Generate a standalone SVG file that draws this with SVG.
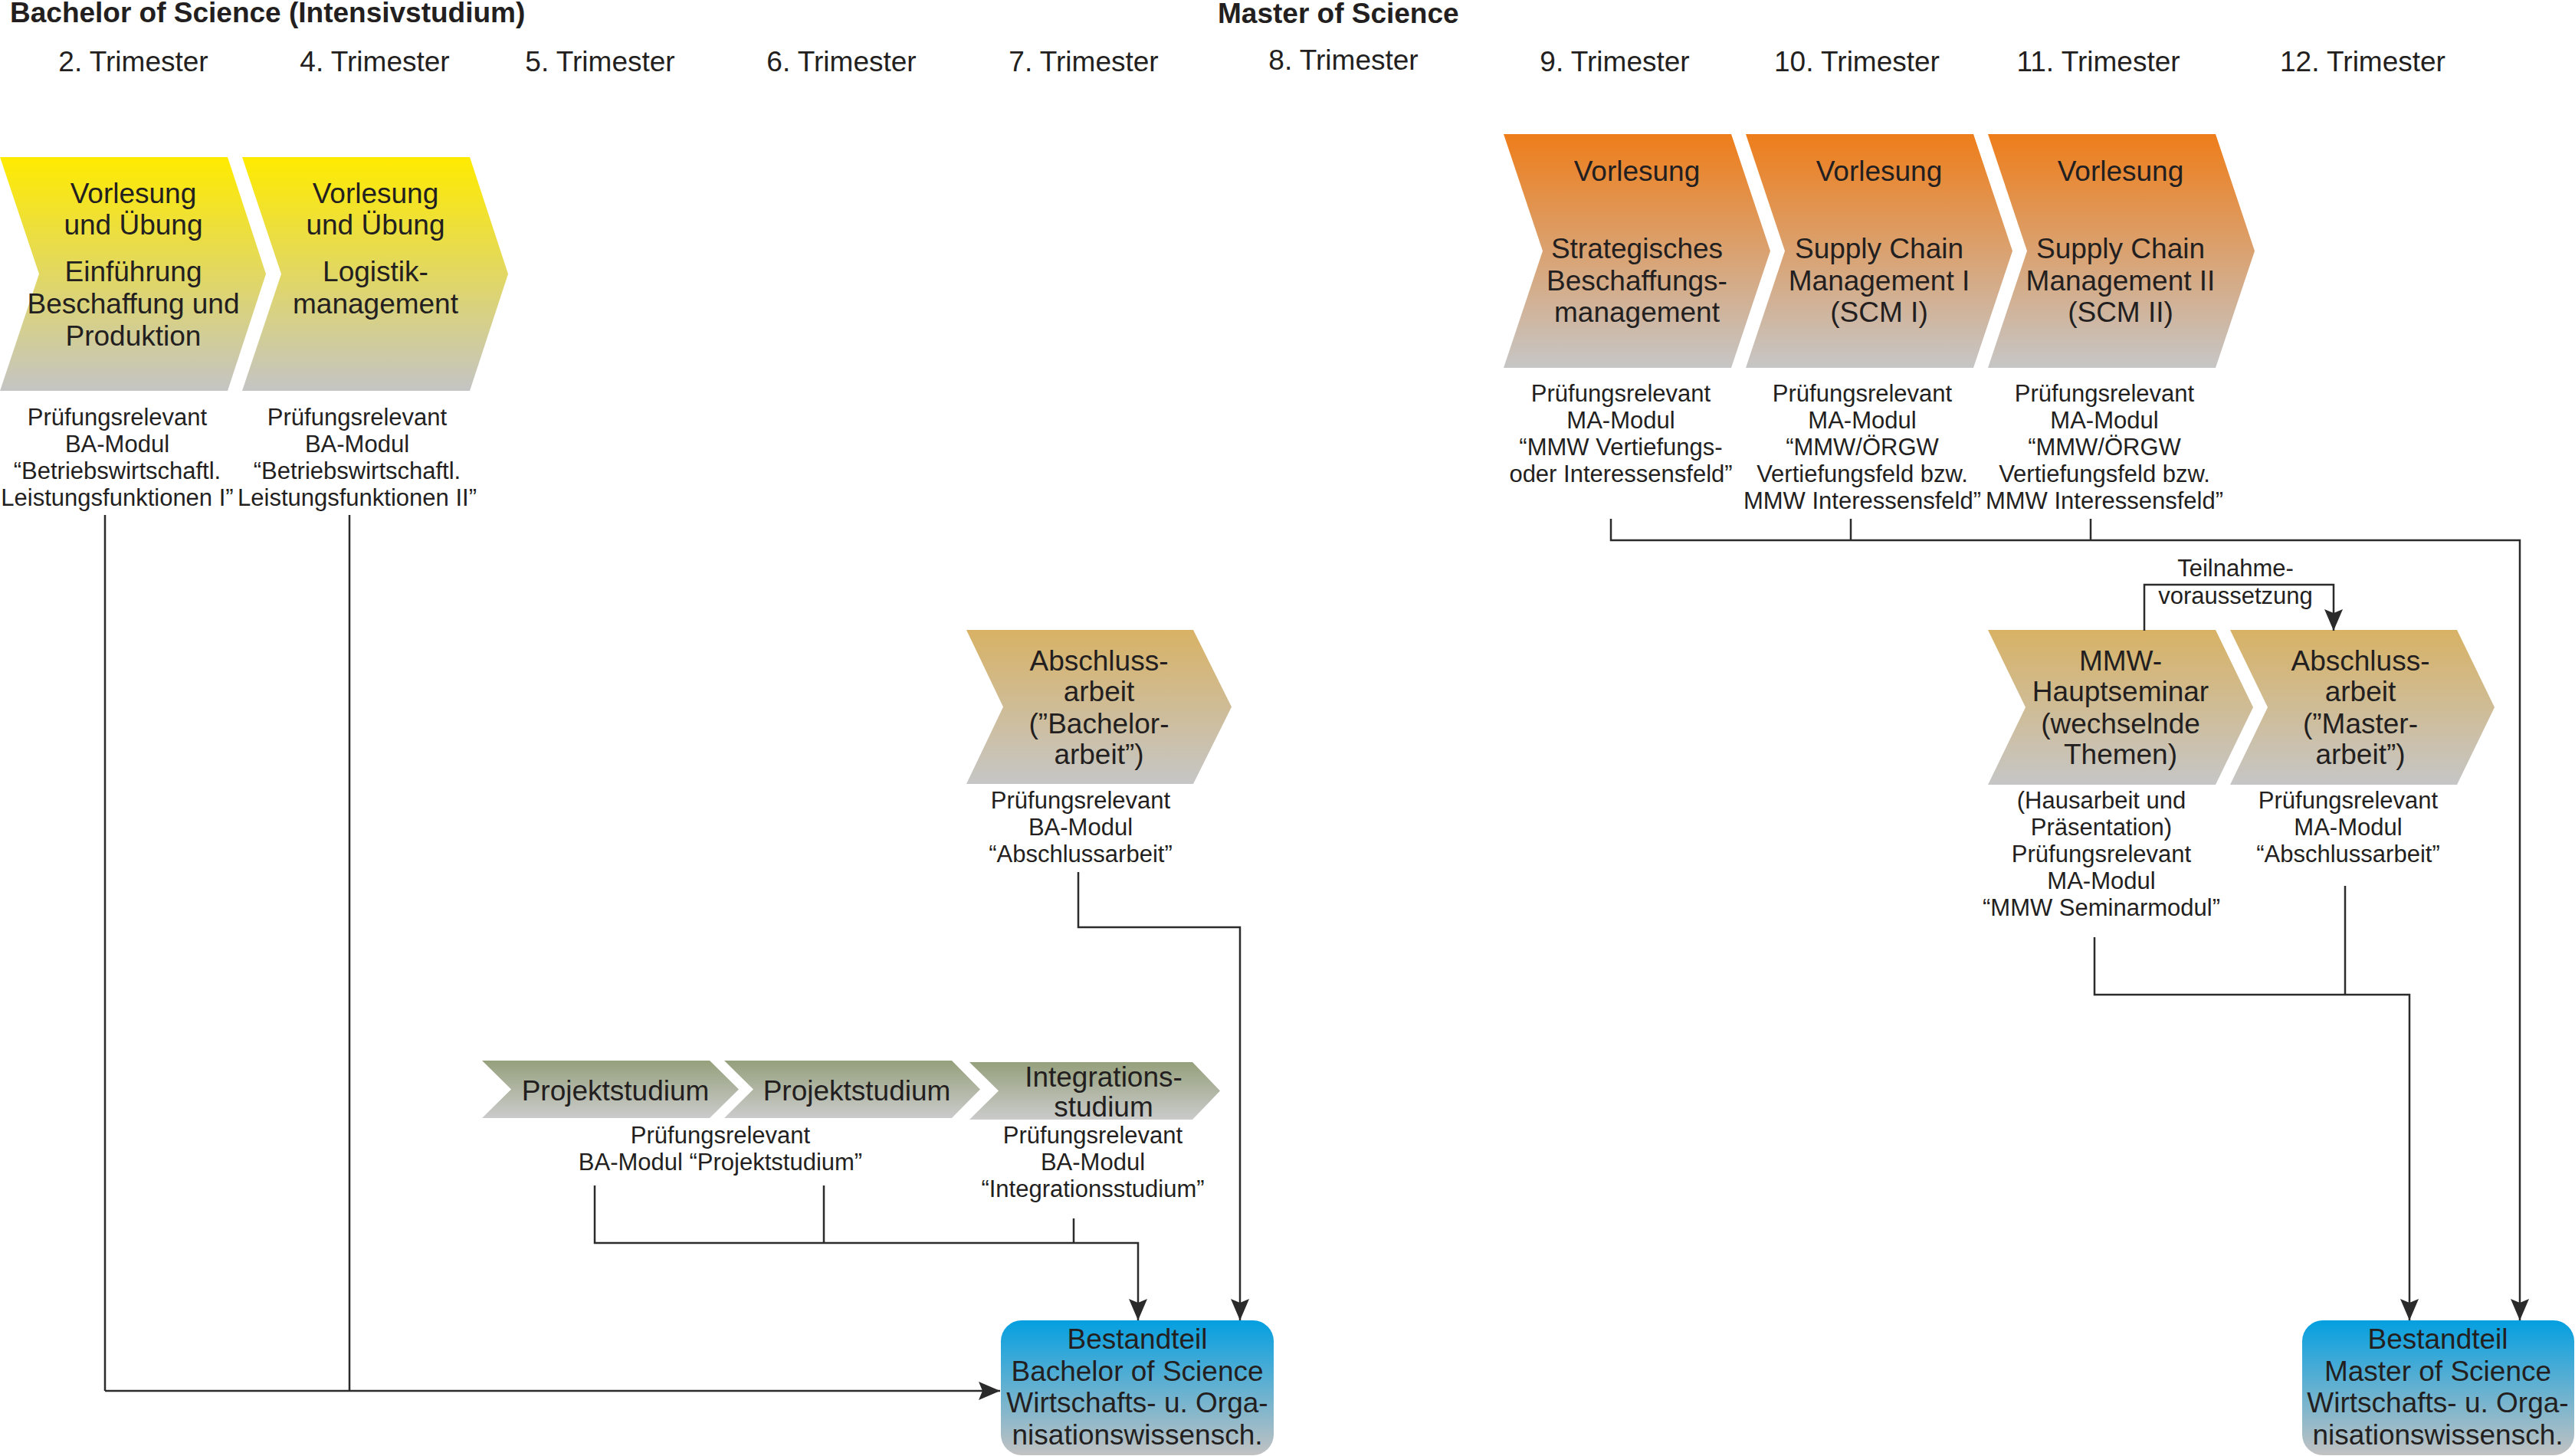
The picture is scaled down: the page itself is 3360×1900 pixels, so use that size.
<svg xmlns="http://www.w3.org/2000/svg" width="3360" height="1900" viewBox="0 0 3360 1900">
<defs>
<linearGradient id="gY" x1="0" y1="0" x2="0" y2="1"><stop offset="0" stop-color="#FFEB00"/><stop offset="1" stop-color="#C4C4C4"/></linearGradient>
<linearGradient id="gO" x1="0" y1="0" x2="0" y2="1"><stop offset="0" stop-color="#EE7D1A"/><stop offset="1" stop-color="#C6C6C6"/></linearGradient>
<linearGradient id="gT" x1="0" y1="0" x2="0" y2="1"><stop offset="0" stop-color="#D8B265"/><stop offset="1" stop-color="#C6C6C6"/></linearGradient>
<linearGradient id="gG" x1="0" y1="0" x2="0" y2="1"><stop offset="0" stop-color="#95A07C"/><stop offset="1" stop-color="#CBCBCB"/></linearGradient>
<linearGradient id="gB" x1="0" y1="0" x2="0" y2="1"><stop offset="0" stop-color="#049FE0"/><stop offset="1" stop-color="#C2C2C2"/></linearGradient>
<marker id="arr" viewBox="0 0 28 24" refX="28" refY="12" markerUnits="userSpaceOnUse" markerWidth="28" markerHeight="24" orient="auto">
<path d="M0,0 L28,12 L0,24 L5,12 Z" fill="#2b2b2b"/>
</marker>
</defs>
<style>
text{font-family:"Liberation Sans",Arial,sans-serif;fill:#231f20;}
.h{font-size:37px;font-weight:bold;}
.t{font-size:37px;text-anchor:middle;}
.m{font-size:37px;text-anchor:middle;}
.s{font-size:31px;text-anchor:middle;}
.c{fill:none;stroke:#2b2b2b;stroke-width:2.5;}
</style>
<rect width="3360" height="1900" fill="#ffffff"/>

<g id="headers">
<text class="h" x="13" y="29">Bachelor of Science (Intensivstudium)</text>
<text class="h" x="1589" y="30">Master of Science</text>
<text class="t" x="174" y="93">2. Trimester</text>
<text class="t" x="489" y="93">4. Trimester</text>
<text class="t" x="783" y="93">5. Trimester</text>
<text class="t" x="1098" y="93">6. Trimester</text>
<text class="t" x="1414" y="93">7. Trimester</text>
<text class="t" x="1753" y="91">8. Trimester</text>
<text class="t" x="2107" y="93">9. Trimester</text>
<text class="t" x="2423" y="93">10. Trimester</text>
<text class="t" x="2738" y="93">11. Trimester</text>
<text class="t" x="3083" y="93">12. Trimester</text>
</g>

<g id="ba-einfuehrung">
<path d="M0,205 H297 L347,357.5 L297,510 H0 L51,357.5 Z" fill="url(#gY)"/>
<text class="m" x="174"><tspan x="174" y="265">Vorlesung</tspan><tspan x="174" y="306">und Übung</tspan><tspan x="174" y="367">Einführung</tspan><tspan x="174" y="409">Beschaffung und</tspan><tspan x="174" y="451">Produktion</tspan></text>
<text class="s"><tspan x="153" y="555">Prüfungsrelevant</tspan><tspan x="153" y="590">BA-Modul</tspan><tspan x="153" y="625">“Betriebswirtschaftl.</tspan><tspan x="153" y="660">Leistungsfunktionen I”</tspan></text>
</g>

<g id="ba-logistik">
<path d="M316,205 H613 L663,357.5 L613,510 H316 L367,357.5 Z" fill="url(#gY)"/>
<text class="m"><tspan x="490" y="265">Vorlesung</tspan><tspan x="490" y="306">und Übung</tspan><tspan x="490" y="367">Logistik-</tspan><tspan x="490" y="409">management</tspan></text>
<text class="s"><tspan x="466" y="555">Prüfungsrelevant</tspan><tspan x="466" y="590">BA-Modul</tspan><tspan x="466" y="625">“Betriebswirtschaftl.</tspan><tspan x="466" y="660">Leistungsfunktionen II”</tspan></text>
</g>

<g id="ba-abschluss">
<path d="M1261,822 H1557 L1607,922.5 L1557,1023 H1261 L1309,922.5 Z" fill="url(#gT)"/>
<text class="m"><tspan x="1434" y="875">Abschluss-</tspan><tspan x="1434" y="915">arbeit</tspan><tspan x="1434" y="957">(”Bachelor-</tspan><tspan x="1434" y="997">arbeit”)</tspan></text>
<text class="s"><tspan x="1410" y="1055">Prüfungsrelevant</tspan><tspan x="1410" y="1090">BA-Modul</tspan><tspan x="1410" y="1125">“Abschlussarbeit”</tspan></text>
</g>

<g id="ba-projekt1">
<path d="M629,1384 H926 L964,1421.5 L926,1459 H629 L667,1421.5 Z" fill="url(#gG)"/>
<text class="m" x="803" y="1436">Projektstudium</text>
</g>
<g id="ba-projekt2">
<path d="M945,1384 H1242 L1279,1421.5 L1242,1459 H945 L983,1421.5 Z" fill="url(#gG)"/>
<text class="m" x="1118" y="1436">Projektstudium</text>
</g>
<g id="ba-projekt-label">
<text class="s"><tspan x="940" y="1492">Prüfungsrelevant</tspan><tspan x="940" y="1527">BA-Modul “Projektstudium”</tspan></text>
</g>
<g id="ba-integration">
<path d="M1265,1386 H1556 L1592,1423.5 L1556,1461 H1265 L1303,1423.5 Z" fill="url(#gG)"/>
<text class="m"><tspan x="1440" y="1418">Integrations-</tspan><tspan x="1440" y="1457">studium</tspan></text>
<text class="s"><tspan x="1426" y="1492">Prüfungsrelevant</tspan><tspan x="1426" y="1527">BA-Modul</tspan><tspan x="1426" y="1562">“Integrationsstudium”</tspan></text>
</g>

<g id="ba-result">
<rect x="1306" y="1723" width="356" height="176" rx="27" fill="url(#gB)"/>
<text class="m"><tspan x="1484" y="1760">Bestandteil</tspan><tspan x="1484" y="1802">Bachelor of Science</tspan><tspan x="1484" y="1843">Wirtschafts- u. Orga-</tspan><tspan x="1484" y="1885">nisationswissensch.</tspan></text>
</g>

<g id="ma-strategisch">
<path d="M1962,175 H2259 L2310,327.5 L2259,480 H1962 L2013,327.5 Z" fill="url(#gO)"/>
<text class="m"><tspan x="2136" y="236">Vorlesung</tspan><tspan x="2136" y="337">Strategisches</tspan><tspan x="2136" y="379">Beschaffungs-</tspan><tspan x="2136" y="420">management</tspan></text>
<text class="s"><tspan x="2115" y="524">Prüfungsrelevant</tspan><tspan x="2115" y="559">MA-Modul</tspan><tspan x="2115" y="594">“MMW Vertiefungs-</tspan><tspan x="2115" y="629">oder Interessensfeld”</tspan></text>
</g>

<g id="ma-scm1">
<path d="M2278,175 H2575 L2626,327.5 L2575,480 H2278 L2329,327.5 Z" fill="url(#gO)"/>
<text class="m"><tspan x="2452" y="236">Vorlesung</tspan><tspan x="2452" y="337">Supply Chain</tspan><tspan x="2452" y="379">Management I</tspan><tspan x="2452" y="420">(SCM I)</tspan></text>
<text class="s"><tspan x="2430" y="524">Prüfungsrelevant</tspan><tspan x="2430" y="559">MA-Modul</tspan><tspan x="2430" y="594">“MMW/ÖRGW</tspan><tspan x="2430" y="629">Vertiefungsfeld bzw.</tspan><tspan x="2430" y="664">MMW Interessensfeld”</tspan></text>
</g>

<g id="ma-scm2">
<path d="M2594,175 H2891 L2942,327.5 L2891,480 H2594 L2645,327.5 Z" fill="url(#gO)"/>
<text class="m"><tspan x="2767" y="236">Vorlesung</tspan><tspan x="2767" y="337">Supply Chain</tspan><tspan x="2767" y="379">Management II</tspan><tspan x="2767" y="420">(SCM II)</tspan></text>
<text class="s"><tspan x="2746" y="524">Prüfungsrelevant</tspan><tspan x="2746" y="559">MA-Modul</tspan><tspan x="2746" y="594">“MMW/ÖRGW</tspan><tspan x="2746" y="629">Vertiefungsfeld bzw.</tspan><tspan x="2746" y="664">MMW Interessensfeld”</tspan></text>
</g>

<g id="ma-seminar">
<path d="M2594,822 H2891 L2940,923 L2891,1024 H2594 L2643,923 Z" fill="url(#gT)"/>
<text class="m"><tspan x="2767" y="875">MMW-</tspan><tspan x="2767" y="915">Hauptseminar</tspan><tspan x="2767" y="957">(wechselnde</tspan><tspan x="2767" y="997">Themen)</tspan></text>
<text class="s"><tspan x="2742" y="1055">(Hausarbeit und</tspan><tspan x="2742" y="1090">Präsentation)</tspan><tspan x="2742" y="1125">Prüfungsrelevant</tspan><tspan x="2742" y="1160">MA-Modul</tspan><tspan x="2742" y="1195">“MMW Seminarmodul”</tspan></text>
</g>

<g id="ma-abschluss">
<path d="M2910,822 H3206 L3255,923 L3206,1024 H2910 L2959,923 Z" fill="url(#gT)"/>
<text class="m"><tspan x="3080" y="875">Abschluss-</tspan><tspan x="3080" y="915">arbeit</tspan><tspan x="3080" y="957">(”Master-</tspan><tspan x="3080" y="997">arbeit”)</tspan></text>
<text class="s"><tspan x="3064" y="1055">Prüfungsrelevant</tspan><tspan x="3064" y="1090">MA-Modul</tspan><tspan x="3064" y="1125">“Abschlussarbeit”</tspan></text>
</g>

<g id="ma-result">
<rect x="3004" y="1723" width="355" height="176" rx="27" fill="url(#gB)"/>
<text class="m"><tspan x="3181" y="1760">Bestandteil</tspan><tspan x="3181" y="1802">Master of Science</tspan><tspan x="3181" y="1843">Wirtschafts- u. Orga-</tspan><tspan x="3181" y="1885">nisationswissensch.</tspan></text>
</g>

<g id="connectors">
<path class="c" d="M137,672 V1815"/>
<path class="c" d="M456,672 V1815 M137,1815 H1305" marker-end="url(#arr)"/>
<path class="c" d="M1407,1138 V1210 H1618 V1723" marker-end="url(#arr)"/>
<path class="c" d="M1075,1547 V1622 M1401,1590 V1622"/>
<path class="c" d="M776,1547 V1622 H1485 V1723" marker-end="url(#arr)"/>
<path class="c" d="M2415,677 V705 M2728,677 V705"/>
<path class="c" d="M2102,677 V705 H3288 V1723" marker-end="url(#arr)"/>
<path class="c" d="M3060,1156 V1298"/>
<path class="c" d="M2733,1223 V1298 H3144 V1723" marker-end="url(#arr)"/>
<path class="c" d="M2798,823 V763 H3045 V823" marker-end="url(#arr)"/>
<text class="s" x="2917" y="752">Teilnahme-</text>
<text class="s" x="2917" y="788">voraussetzung</text>
</g>
</svg>
